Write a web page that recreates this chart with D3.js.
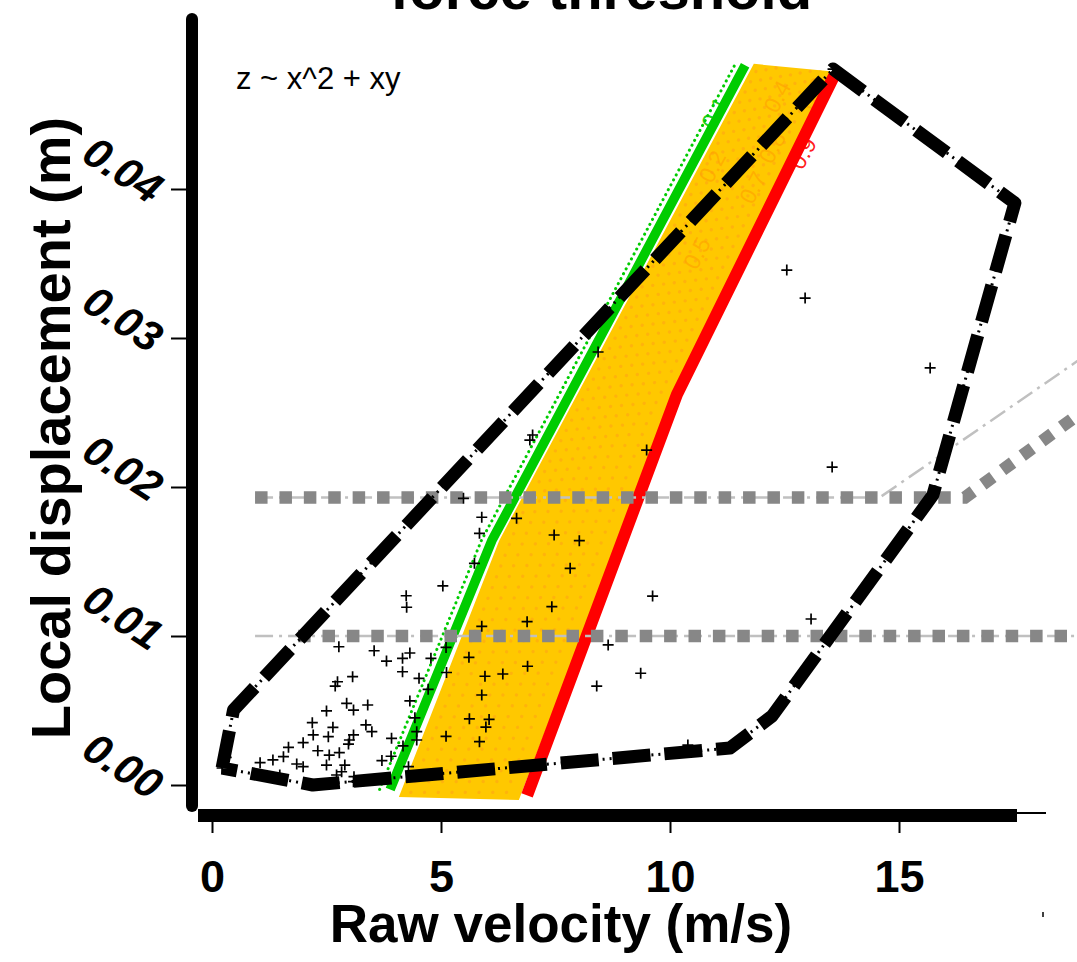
<!DOCTYPE html>
<html>
<head>
<meta charset="utf-8">
<script src="https://cdn.jsdelivr.net/npm/d3@7"></script>
<style>
body { margin: 0; background: #fff; }
svg { display: block; font-family: "Liberation Sans", Arial, sans-serif; }
</style>
</head>
<body>
<div id="chart"></div>
<script>
///////////////////////////// DATA /////////////////////////////////////

// raw velocity (m/s) / local displacement (m) of each observation
var ptVelocity = [4.25,7.42,5.89,6.88,2.77,3.54,3.81,4.16,4.32,4.78,
    5.11,4.16,5.61,5.12,6.89,5.96,6.35,3.07,2.74,2.69,
    4.52,4.72,5.89,4.32,2.94,3.40,3.09,2.50,4.43,5.62,
    6.05,5.98,2.19,2.64,3.36,3.49,2.21,2.54,3.09,3.00,
    4.47,4.47,5.11,5.84,3.92,1.99,4.17,2.98,1.67,2.31,
    2.78,2.56,1.33,1.56,1.05,3.91,3.71,1.85,1.99,2.50,
    2.90,4.29,0.31,0.47,2.72,2.83,3.10,3.09,7.00,6.94,
    9.49,5.49,5.89,6.65,5.84,7.47,8.02,5.73,7.82,5.04,
    4.24,9.62,8.65,9.36,8.40,8.43,12.55,12.95,15.68,13.54,
    13.08,17.53,13.56,12.23,10.39,0.22,11.31,15.74,1.48];
var ptDisplacement = [.01193,.01197,.01065,.01096,.00928,.00901,.00832,.00850,.00886,.00850,
    .00923,.00760,.00857,.00755,.00797,.00730,.00745,.00727,.00693,.00664,
    .00716,.00642,.00604,.00564,.00548,.00537,.00503,.00497,.00451,.00444,
    .00440,.00389,.00418,.00387,.00403,.00358,.00336,.00324,.00336,.00302,
    .00358,.00302,.00327,.00291,.00313,.00284,.00262,.00275,.00253,.00230,
    .00217,.00201,.00168,.00190,.00150,.00193,.00164,.00141,.00123,.00134,
    .00134,.00123,.00186,.00503,.00067,.00089,.00056,.00022,.02349,.02315,
    .02248,.01924,.01797,.01790,.01689,.01678,.01640,.01488,.01454,.01336,
    .01270,.01268,.00940,.00750,.00664,.02906,.03456,.03268,.02799,.02134,
    .01114,.03906,.04805,.00463,.00268,.00114,.00248,.01946,.00067];

// convex hull of the observations
var hullVelocity = [0.22, 0.47, 13.56, 17.53, 15.74, 12.23, 11.31, 2.2, 0.22];
var hullDisplacement = [0.00114, 0.00503, 0.04805, 0.03906, 0.01946, 0.00463, 0.00248, 0.0, 0.00114];

// 0.1 and 0.9 probability contours
var greenVelocity = [3.89, 6.11, 11.64];
var greenDisplacement = [-0.0003, 0.0164, 0.0483];
var greenDotVelocity = [3.66, 5.88, 11.41];
var greenDotDisplacement = [-0.0003, 0.0164, 0.0483];
var redVelocity = [6.88, 10.15, 13.6];
var redDisplacement = [-0.0007, 0.0262, 0.0477];

// filled band between the contours
var bandVelocity = [4.08, 6.27, 11.83, 13.5, 10.1, 6.7];
var bandDisplacement = [-0.0008, 0.0164, 0.0484, 0.0479, 0.0262, -0.001];

// dotted inner contours (bottom, bend, top)
var innerContours = [
    [[4.34, -0.0005], [6.72, 0.0179], [11.93, 0.0482]],
    [[4.64, -0.0005], [7.12, 0.0189], [12.13, 0.0482]],
    [[4.94, -0.0005], [7.52, 0.0198], [12.33, 0.0482]],
    [[5.24, -0.0005], [7.93, 0.0208], [12.52, 0.0482]],
    [[5.53, -0.0005], [8.33, 0.0218], [12.72, 0.0482]],
    [[5.83, -0.0005], [8.74, 0.0228], [12.91, 0.0482]],
    [[6.13, -0.0005], [9.14, 0.0238], [13.11, 0.0482]],
    [[6.43, -0.0005], [9.54, 0.0247], [13.31, 0.0482]]
];
var contourLabels = ["0.1", "0.2", "0.4", "0.5", "0.7", "0.8", "0.6", "0.9"];
var contourLabelVelocity = [10.98, 10.92, 12.34, 10.59, 11.81, 12.23, 13.12, 12.9];
var contourLabelDisplacement = [0.0451, 0.0415, 0.0462, 0.0357, 0.0401, 0.0428, 0.0464, 0.0424];
var contourLabelColor = ["#00cc00", "#ff9f00", "#ff9f00", "#ff9f00", "#ff9f00", "#ff9f00", "#ff9f00", "#ff0000"];

// force thresholds
var upperThinV = [0.94, 14.58, 19.2];
var upperThinD = [0.0193, 0.0193, 0.0291];
var upperThickV = [0.94, 16.44, 19.2];
var upperThickD = [0.0193, 0.0193, 0.0255];
var lowerThinV = [0.94, 19.2];
var lowerThinD = [0.0100, 0.0100];
var lowerThickV = [1.88, 19.2];
var lowerThickD = [0.0100, 0.0100];

var xTicks = [0, 5, 10, 15];
var yTicks = [0, 0.01, 0.02, 0.03, 0.04];

///////////////////////////// CHART /////////////////////////////////////

width = 1077;
height = 962;

xScale = d3.scaleLinear().domain([0, 15]).range([212, 899]);
yScale = d3.scaleLinear().domain([0, 0.04]).range([785, 189]);

zip = (a, b) => a.map((v, i) => [v, b[i]]);

line = d3.line()
    .x(d => xScale(d[0]))
    .y(d => yScale(d[1]));

svg = d3.select("#chart").append("svg")
    .attr("width", width)
    .attr("height", height);

svg.append("rect").attr("width", width).attr("height", height).attr("fill", "#fff");

svg.append("clipPath").attr("id", "band-clip")
    .append("path")
    .attr("d", line(zip(bandVelocity, bandDisplacement)) + "Z");

// orange band
svg.append("path")
    .attr("d", line(zip(bandVelocity, bandDisplacement)) + "Z")
    .attr("fill", "#ffc800");

svg.append("g")
    .attr("clip-path", "url(#band-clip)")
    .selectAll("path")
    .data(innerContours).enter()
    .append("path")
    .attr("d", d => line(d))
    .attr("fill", "none")
    .attr("stroke", "#ff9a1a")
    .attr("stroke-opacity", 0.45)
    .attr("stroke-width", 3.2)
    .attr("stroke-linecap", "round")
    .attr("stroke-dasharray", "0.1,11.5");

svg.selectAll(".clabel")
    .data(contourLabels).enter()
    .append("text")
    .attr("class", "clabel")
    .attr("transform", (d, i) => `translate(${xScale(contourLabelVelocity[i])},${yScale(contourLabelDisplacement[i])}) rotate(-62)`)
    .attr("text-anchor", "middle")
    .attr("dominant-baseline", "central")
    .style("font-size", "23px")
    .attr("fill", (d, i) => contourLabelColor[i])
    .attr("fill-opacity", (d, i) => i == 0 || i == 7 ? 0.9 : 0.6)
    .text(d => d);

// green / red contours
svg.append("path")
    .attr("d", line(zip(greenDotVelocity, greenDotDisplacement)))
    .attr("fill", "none")
    .attr("stroke", "#00cc00")
    .attr("stroke-width", 3)
    .attr("stroke-linecap", "round")
    .attr("stroke-dasharray", "0.1,5.5");

svg.append("path")
    .attr("d", line(zip(greenVelocity, greenDisplacement)))
    .attr("fill", "none")
    .attr("stroke", "#00cc00")
    .attr("stroke-width", 9.5);

svg.append("path")
    .attr("d", line(zip(redVelocity, redDisplacement)))
    .attr("fill", "none")
    .attr("stroke", "#ff0000")
    .attr("stroke-width", 12);

// thresholds
[[upperThinV, upperThinD], [lowerThinV, lowerThinD]].forEach(function(l) {
    svg.append("path")
        .attr("d", line(zip(l[0], l[1])))
        .attr("fill", "none")
        .attr("stroke", "#c0c0c0")
        .attr("stroke-width", 2.5)
        .attr("stroke-dasharray", "18,6,3,6");
});
[[upperThickV, upperThickD], [lowerThickV, lowerThickD]].forEach(function(l) {
    svg.append("path")
        .attr("d", line(zip(l[0], l[1])))
        .attr("fill", "none")
        .attr("stroke", "#878787")
        .attr("stroke-width", 12.5)
        .attr("stroke-dasharray", "12.5,11.9");
});

// observations
svg.append("g")
    .selectAll("path")
    .data(zip(ptVelocity, ptDisplacement)).enter()
    .append("path")
    .attr("d", d => `M${xScale(d[0]) - 5.5},${yScale(d[1])}h11M${xScale(d[0])},${yScale(d[1]) - 5.5}v11`)
    .attr("stroke", "#000")
    .attr("stroke-width", 1.7);

// hull
svg.append("path")
    .attr("d", line(zip(hullVelocity, hullDisplacement)))
    .attr("fill", "none")
    .attr("stroke", "#000")
    .attr("stroke-width", 3)
    .attr("stroke-dasharray", "2,5");
svg.append("path")
    .attr("d", line(zip(hullVelocity, hullDisplacement)))
    .attr("fill", "none")
    .attr("stroke", "#000")
    .attr("stroke-width", 13)
    .attr("stroke-linejoin", "round")
    .attr("stroke-dasharray", "38,14");

///////////////////////////// AXES /////////////////////////////////////

svg.append("line")
    .attr("x1", 192).attr("x2", 192).attr("y1", 19).attr("y2", 806)
    .attr("stroke", "#000").attr("stroke-width", 12).attr("stroke-linecap", "round");
svg.append("line")
    .attr("x1", 198).attr("x2", 1017).attr("y1", 815.5).attr("y2", 815.5)
    .attr("stroke", "#000").attr("stroke-width", 13);
svg.append("line")
    .attr("x1", 1017).attr("x2", 1046).attr("y1", 813).attr("y2", 813)
    .attr("stroke", "#000").attr("stroke-width", 2);
svg.append("line")
    .attr("x1", 1043).attr("x2", 1043).attr("y1", 912).attr("y2", 917)
    .attr("stroke", "#000").attr("stroke-width", 1.5);

xAxis = d3.axisBottom(xScale).tickValues(xTicks).tickSize(11).tickPadding(27);
xAxisG = svg.append("g")
    .attr("transform", "translate(0,822)")
    .call(xAxis);
xAxisG.select(".domain").remove();
xAxisG.selectAll(".tick line").attr("stroke", "#000").attr("stroke-width", 2);
xAxisG.selectAll(".tick text")
    .attr("fill", "#000")
    .style("font-family", "Liberation Sans, Arial, sans-serif")
    .style("font-size", "45px")
    .style("font-weight", "bold");

yAxis = d3.axisLeft(yScale).tickValues(yTicks).tickSize(15).tickFormat("");
yAxisG = svg.append("g")
    .attr("transform", "translate(186,0)")
    .call(yAxis);
yAxisG.select(".domain").remove();
yAxisG.selectAll(".tick line").attr("stroke", "#000").attr("stroke-width", 2);

svg.selectAll(".ylabel")
    .data(yTicks).enter()
    .append("text")
    .attr("class", "ylabel")
    .attr("transform", d => `translate(150,${yScale(d) + 16}) rotate(33)`)
    .attr("text-anchor", "end")
    .style("font-size", "43px")
    .style("font-weight", "bold")
    .style("font-style", "italic")
    .text(d => d.toFixed(2));

svg.append("text")
    .attr("transform", "translate(70,428) rotate(-90)")
    .attr("text-anchor", "middle")
    .style("font-size", "56px")
    .style("font-weight", "bold")
    .text("Local displacement (m)");

svg.append("text")
    .attr("x", 561)
    .attr("y", 942)
    .attr("text-anchor", "middle")
    .style("font-size", "53px")
    .style("font-weight", "bold")
    .text("Raw velocity (m/s)");

svg.append("text")
    .attr("x", 601)
    .attr("y", 9)
    .attr("text-anchor", "middle")
    .style("font-size", "58px")
    .style("font-weight", "bold")
    .text("force threshold");

svg.append("text")
    .attr("x", 236)
    .attr("y", 89)
    .style("font-size", "31px")
    .text("z ~ x^2 + xy");
</script>
</body>
</html>
